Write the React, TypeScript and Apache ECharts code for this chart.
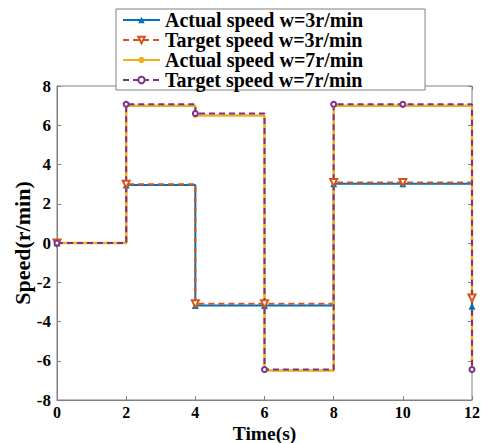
import React, { useEffect, useRef } from "react";
import * as echarts from "echarts";

const timeS = [0, 2, 4, 6, 8, 10, 12];
const actual3 = [0, 2.95, -3.18, -3.18, 3.02, 3.02, -3.22];
const target3 = [0, 3.0, -3.1, -3.1, 3.08, 3.08, -2.8];
const actual7 = [0, 7.0, 6.5, -6.5, 7.0, 7.0, -6.5];
const target7 = [0, 7.07, 6.6, -6.45, 7.07, 7.07, -6.45];
const seriesNames = [
  "Actual speed w=3r/min",
  "Target speed w=3r/min",
  "Actual speed w=7r/min",
  "Target speed w=7r/min",
];

const FONT = "'Liberation Serif', 'Times New Roman', serif";
const GREY = "#808080";

function pairs(vals: number[]) {
  return timeS.map((t, i) => [t, vals[i]]);
}

export default function App() {
  const ref = useRef<HTMLDivElement>(null);
  useEffect(() => {
    if (!ref.current) return;
    const chart = echarts.init(ref.current, undefined, { renderer: "svg" });
    const tickStyle = { show: true, inside: true, length: 4, lineStyle: { color: GREY } };
    const labelStyle = { color: "#000", fontFamily: FONT, fontWeight: "bold" as const, fontSize: 17 };
    chart.setOption({
      animation: false,
      backgroundColor: "#fff",
      grid: {
        left: 57,
        right: 12,
        top: 86,
        bottom: 43,
        show: true,
        borderColor: GREY,
        borderWidth: 1,
        containLabel: false,
        outerBoundsMode: "none",
      },
      legend: {
        orient: "vertical",
        left: 116,
        top: 9,
        backgroundColor: "#fff",
        borderColor: GREY,
        borderWidth: 1,
        padding: [1, 62, 0, 6],
        itemWidth: 37,
        itemHeight: 8,
        itemGap: 0,
        z: 10,
        textStyle: { ...labelStyle, fontSize: 20 },
        data: seriesNames,
      },
      xAxis: [
        {
          type: "value",
          min: 0,
          max: 12,
          interval: 2,
          name: "Time(s)",
          nameLocation: "middle",
          nameGap: 23.5,
          nameMoveOverlap: false,
          nameTextStyle: { ...labelStyle, fontSize: 19.5 },
          axisLine: { show: true, onZero: false, lineStyle: { color: GREY } },
          axisTick: tickStyle,
          axisLabel: { ...labelStyle, fontSize: 16, margin: 4 },
          splitLine: { show: false },
        },
        {
          type: "value",
          position: "top",
          min: 0,
          max: 12,
          interval: 2,
          axisLine: { show: false, onZero: false },
          axisTick: tickStyle,
          axisLabel: { show: false },
          splitLine: { show: false },
        },
      ],
      yAxis: [
        {
          type: "value",
          min: -8,
          max: 8,
          interval: 2,
          name: "Speed(r/min)",
          nameLocation: "middle",
          nameGap: 24,
          nameMoveOverlap: false,
          nameTextStyle: { ...labelStyle, fontSize: 22 },
          axisLine: { show: true, onZero: false, lineStyle: { color: GREY } },
          axisTick: tickStyle,
          axisLabel: { ...labelStyle, margin: 6 },
          splitLine: { show: false },
        },
        {
          type: "value",
          position: "right",
          min: -8,
          max: 8,
          interval: 2,
          axisLine: { show: false, onZero: false },
          axisTick: tickStyle,
          axisLabel: { show: false },
          splitLine: { show: false },
        },
      ],
      series: [
        {
          name: seriesNames[0],
          type: "line",
          step: "end",
          data: pairs(actual3),
          symbol: "triangle",
          symbolSize: 7,
          color: "#0072BD",
          lineStyle: { width: 2, color: "#0072BD" },
          itemStyle: { color: "#0072BD" },
        },
        {
          name: seriesNames[1],
          type: "line",
          step: "end",
          data: pairs(target3),
          symbol: "emptyTriangle",
          symbolRotate: 180,
          symbolSize: 7,
          color: "#D95319",
          lineStyle: { width: 2, color: "#D95319", type: [6, 4] },
          itemStyle: { color: "#D95319", borderWidth: 1.5 },
        },
        {
          name: seriesNames[2],
          type: "line",
          step: "end",
          data: pairs(actual7),
          symbol: "circle",
          symbolSize: 5,
          color: "#EDB120",
          lineStyle: { width: 2.5, color: "#EDB120" },
          itemStyle: { color: "#EDB120" },
        },
        {
          name: seriesNames[3],
          type: "line",
          step: "end",
          data: pairs(target7),
          symbol: "emptyCircle",
          symbolSize: 5,
          color: "#7E2F8E",
          lineStyle: { width: 2, color: "#7E2F8E", type: [6, 4] },
          itemStyle: { color: "#7E2F8E", borderWidth: 1.5 },
        },
      ],
    });
    return () => chart.dispose();
  }, []);
  return <div ref={ref} style={{ width: 484, height: 443, position: "absolute", left: 0, top: 0 }} />;
}
